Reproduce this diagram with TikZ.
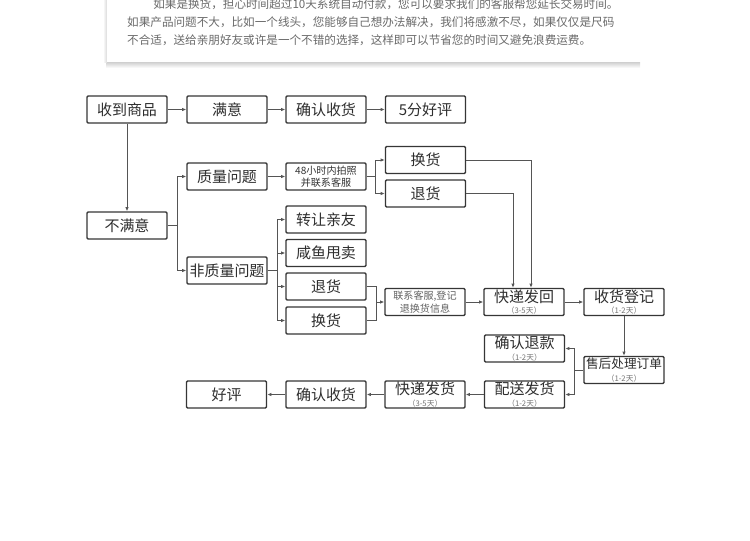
\documentclass[tikz,border=0pt]{standalone}
\usepackage{fontspec}
\setmainfont{Noto Sans CJK SC}
\usetikzlibrary{arrows.meta, positioning, calc}
\definecolor{boxline}{HTML}{363636}
\definecolor{linkline}{HTML}{555555}
\definecolor{bodytext}{HTML}{2E2E2E}
\definecolor{notetext}{HTML}{6A6A6A}
\tikzset{
  stepbox/.style  = {draw=boxline, line width=1.2pt, rounded corners=1pt, fill=white,
                     minimum width=24mm, minimum height=8.1mm, inner sep=0pt,
                     align=center, text=bodytext, font=\fontsize{12.8}{14}\selectfont},
  smallbox/.style = {stepbox, text=black!80, font=\fontsize{8.6}{10.6}\selectfont},
}
\newcommand{\daynote}[1]{{\fontsize{6.6}{6.6}\selectfont\color{black!55}#1}}

\begin{document}
\begin{tikzpicture}[
            >={Latex[length=3.6pt,width=3pt]},
            wire/.style ={draw=linkline, line width=0.8pt},
            feed/.style ={wire, ->},
            x=0.3mm, y=-0.3mm
        ]
        \useasboundingbox (0,0) rectangle (750,540);

        %% --- Note card at the top (cut off by the page edge) ---------------
        \shade[top color=black!22, bottom color=white] (106,61) rectangle (640,68);
        \shade[left color=white, right color=black!15] (103,-5) rectangle (107,62);
        \fill[white] (107,-5) rectangle (660,62);
        \node[anchor=west, align=left, inner sep=0pt, text=notetext,
              font=\fontsize{9.9}{15.3}\selectfont] (intro) at (127,22)
        {\hspace*{2.25em}如果是换货，担心时间超过10天系统自动付款，您可以要求我们的客服帮您延长交易时间。\\
         如果产品问题不大，比如一个线头，您能够自己想办法解决，我们将感激不尽，如果仅仅是尺码\\
         不合适，送给亲朋好友或许是一个不错的选择，这样即可以节省您的时间又避免浪费运费。};

        %% --- Satisfied: top row ---------------------------------------------
        \node[stepbox] (recv)     at (127,109.5) {收到商品};
        \node[stepbox] (ok)       at (227,109.5) {满意};
        \node[stepbox] (confirmA) at (326,109.5) {确认收货};
        \node[stepbox] (rate5)    at (425.5,109.5) {5分好评};
        \draw[feed] (recv) -- (ok);
        \draw[feed] (ok) -- (confirmA);
        \draw[feed] (confirmA) -- (rate5);

        %% --- Not satisfied ----------------------------------------------------
        \node[stepbox] (unhappy)    at (127,225.5) {不满意};
        \node[stepbox] (quality)    at (227,176.5) {质量问题};
        \node[stepbox] (nonquality) at (227,270.5) {非质量问题};
        \draw[feed] (recv.south) -- (unhappy.north);
        \draw[feed] (unhappy.east) -- ++(10,0) |- (quality.west);
        \draw[feed] (unhappy.east) -- ++(10,0) |- (nonquality.west);

        % quality problem: photo within 48h, then swap or return
        \node[smallbox] (photo)   at (326,176.5) {48小时内拍照\\并联系客服};
        \node[stepbox]  (swapA)   at (425.5,160) {换货};
        \node[stepbox]  (returnA) at (425.5,193.5) {退货};
        \draw[feed] (quality) -- (photo);
        \draw[feed] (photo.east) -- ++(9,0) |- (swapA.west);
        \draw[feed] (photo.east) -- ++(9,0) |- (returnA.west);

        % other problems: four ways out
        \node[stepbox] (friend)  at (326,219.5) {转让亲友};
        \node[stepbox] (resale)  at (326,253)   {咸鱼甩卖};
        \node[stepbox] (returnB) at (326,286.5) {退货};
        \node[stepbox] (swapB)   at (326,320.5) {换货};
        \draw[feed] (nonquality.east) -- ++(10,0) |- (friend.west);
        \draw[feed] (nonquality.east) -- ++(10,0) |- (resale.west);
        \draw[feed] (nonquality.east) -- ++(10,0) |- (returnB.west);
        \draw[feed] (nonquality.east) -- ++(10,0) |- (swapB.west);

        \node[smallbox, text=black!62] (register) at (425,302) {联系客服,登记\\退换货信息};
        \draw[wire] (returnB.east) -- ++(10,0) coordinate (join) |- (swapB.east);
        \draw[feed] (join |- register.west) -- (register.west);

        %% --- Send back and after-sale ---------------------------------------
        \node[stepbox] (sendback) at (524,302) {快递发回\\[-4pt]\daynote{（3-5天）}};
        \node[stepbox] (checkin)  at (624,302) {收货登记\\[-4pt]\daynote{（1-2天）}};
        \draw[feed] (register) -- (sendback);
        \draw[feed] (swapA.east) -| ($(sendback.north)+(7,0)$);
        \draw[feed] (returnA.east) -| ($(sendback.north)+(-11,0)$);
        \draw[feed] (sendback) -- (checkin);

        \node[stepbox] (aftersale) at (624,370)
        {{\fontsize{10.8}{12}\selectfont 售后处理订单}\\[-3pt]\daynote{（1-2天）}};
        \node[stepbox] (refund)    at (524.5,348.5) {确认退款\\[-4pt]\daynote{（1-2天）}};
        \node[stepbox] (dispatch)  at (524.5,394.5) {配送发货\\[-4pt]\daynote{（1-2天）}};
        \draw[feed] (checkin.south) -- (aftersale.north);
        \draw[feed] (aftersale.west) -- ++(-8.5,0) |- (refund.east);
        \draw[feed] (aftersale.west) -- ++(-8.5,0) |- (dispatch.east);

        %% --- Bottom row, right to left ---------------------------------------
        \node[stepbox] (express)  at (425,394.5) {快递发货\\[-4pt]\daynote{（3-5天）}};
        \node[stepbox] (confirmB) at (326,394.5) {确认收货};
        \node[stepbox] (rate)     at (226.5,394.5) {好评};
        \draw[feed] (dispatch) -- (express);
        \draw[feed] (express) -- (confirmB);
        \draw[feed] (confirmB) -- (rate);

    \end{tikzpicture}
\end{document}
